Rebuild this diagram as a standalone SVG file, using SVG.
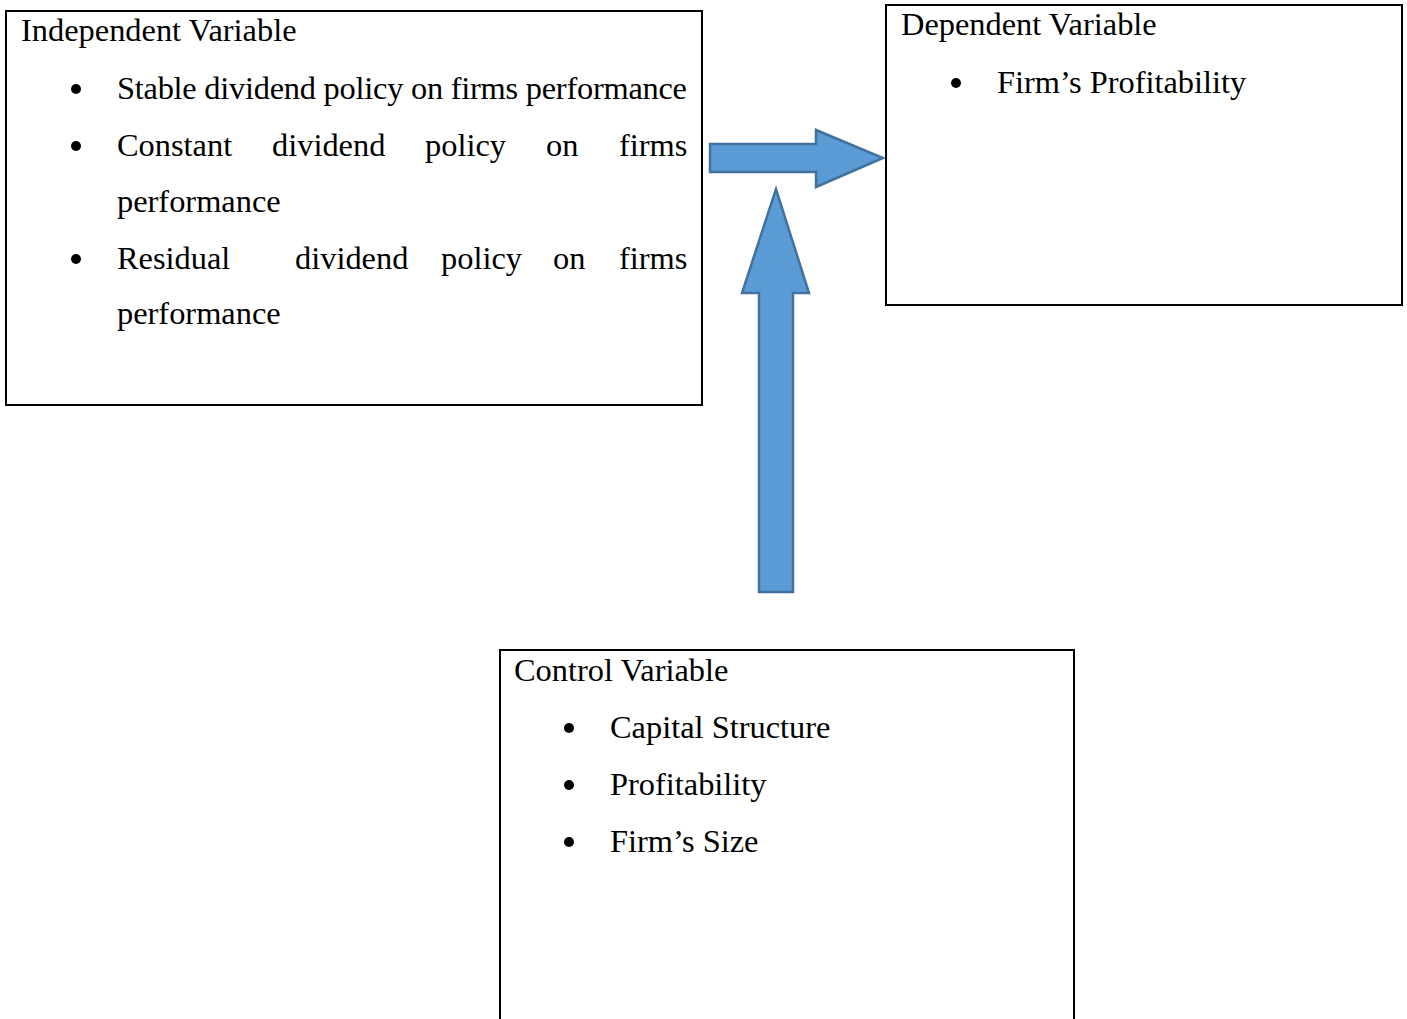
<svg xmlns="http://www.w3.org/2000/svg" width="1407" height="1019" viewBox="0 0 1407 1019">
<style>
.box{fill:#fff;stroke:#000;stroke-width:2}
.t{font-family:"Liberation Serif","Times New Roman",serif;font-size:32.4px;fill:#000}
.b{fill:#000}
.arr{fill:#5B9BD5;stroke:#41719C;stroke-width:2.5;stroke-linejoin:miter}
</style>
<rect width="1407" height="1019" fill="#fff"/>
<g id="independent">
<rect class="box" x="6" y="11" width="696" height="394"/>
<text class="t" x="21" y="41">Independent Variable</text>
<circle class="b" cx="76" cy="89" r="5"/>
<text class="t" x="117" y="99" textLength="570" lengthAdjust="spacing">Stable dividend policy on firms performance</text>
<circle class="b" cx="76" cy="146" r="5"/>
<text class="t" y="156"><tspan x="117">Constant</tspan><tspan x="272">dividend</tspan><tspan x="425">policy</tspan><tspan x="546">on</tspan><tspan x="619">firms</tspan></text>
<text class="t" x="117" y="212">performance</text>
<circle class="b" cx="76" cy="259" r="5"/>
<text class="t" y="269"><tspan x="117">Residual</tspan><tspan x="295">dividend</tspan><tspan x="441">policy</tspan><tspan x="553">on</tspan><tspan x="619">firms</tspan></text>
<text class="t" x="117" y="324">performance</text>
</g>
<g id="dependent">
<rect class="box" x="886" y="5" width="516" height="300"/>
<text class="t" x="901" y="35">Dependent Variable</text>
<circle class="b" cx="956" cy="83" r="5"/>
<text class="t" x="997" y="93">Firm’s Profitability</text>
</g>
<g id="control">
<rect class="box" x="500" y="650" width="574" height="380"/>
<text class="t" x="514" y="681">Control Variable</text>
<circle class="b" cx="569" cy="728" r="5"/>
<text class="t" x="610" y="738">Capital Structure</text>
<circle class="b" cx="569" cy="785" r="5"/>
<text class="t" x="610" y="795">Profitability</text>
<circle class="b" cx="569" cy="842" r="5"/>
<text class="t" x="610" y="852">Firm’s Size</text>
</g>
<g id="connectors">
<polygon class="arr" points="710,144 816,144 816,130 883,158 816,187 816,172 710,172"/>
<polygon class="arr" points="759,592 759,293 742,293 776,189 809,293 793,293 793,592"/>
</g>
</svg>
